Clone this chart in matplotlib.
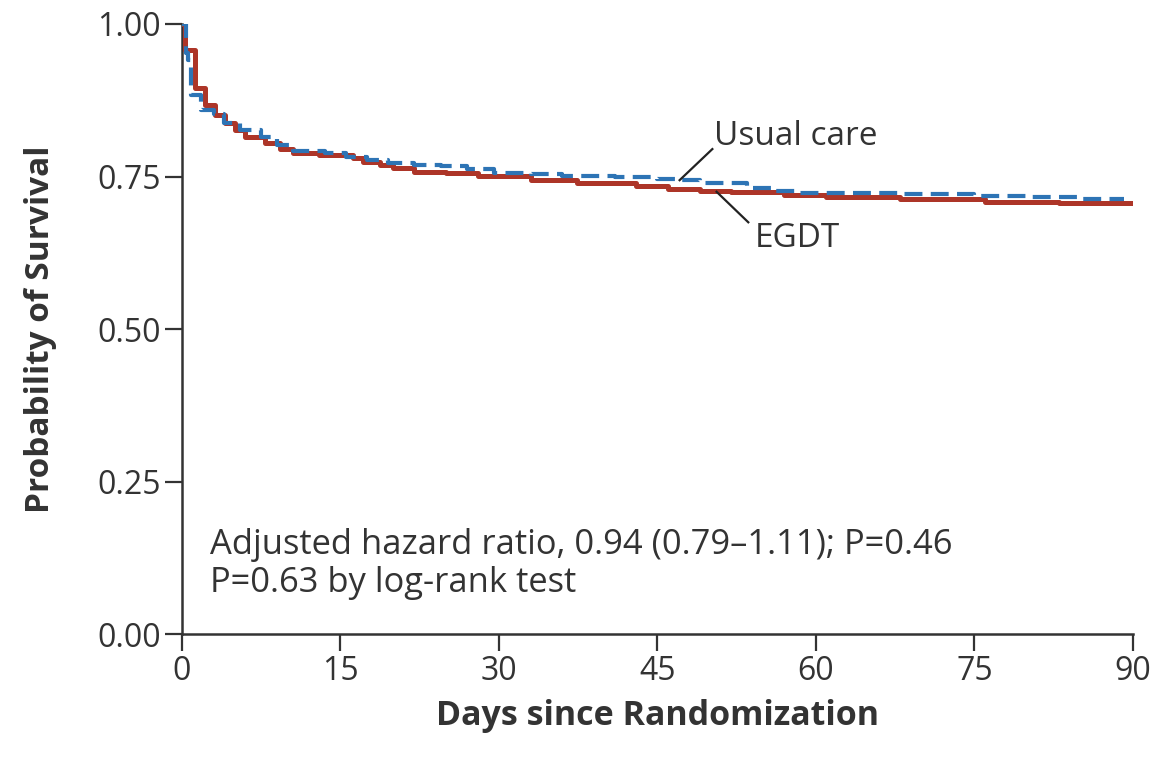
import matplotlib
matplotlib.use("Agg")
import matplotlib.pyplot as plt

# Kaplan-Meier step data (day of drop, survival after drop)
egdt_days = [0, 0.3, 1.2, 2.2, 3.1, 4.1, 5.0, 6.0, 7.9, 9.3, 10.5, 13.0, 16.2, 17.1,
             18.7, 20.0, 22.0, 25.0, 28.0, 33.0, 37.4, 43.0, 46.0, 49.0, 52.0, 57.0,
             61.0, 68.0, 76.0, 83.0, 90.0]
egdt_surv = [1.0, 0.958, 0.895, 0.867, 0.851, 0.838, 0.826, 0.815, 0.805, 0.795, 0.789,
             0.785, 0.780, 0.774, 0.769, 0.764, 0.757, 0.755, 0.751, 0.744, 0.739, 0.734,
             0.730, 0.727, 0.724, 0.720, 0.716, 0.713, 0.709, 0.706, 0.706]

usual_days = [0, 0.4, 0.6, 0.9, 1.8, 3.0, 4.0, 5.5, 7.5, 9.0, 10.5, 13.5, 15.5, 17.5,
              19.5, 22.0, 24.5, 27.0, 29.5, 33.0, 36.0, 41.0, 45.0, 47.0, 49.0, 53.5,
              56.0, 58.5, 68.0, 75.0, 80.0, 85.0, 89.2]
usual_surv = [1.0, 0.952, 0.941, 0.884, 0.859, 0.852, 0.838, 0.826, 0.815, 0.802, 0.792,
              0.788, 0.782, 0.777, 0.772, 0.769, 0.767, 0.762, 0.756, 0.754, 0.751, 0.749,
              0.746, 0.745, 0.740, 0.732, 0.727, 0.723, 0.721, 0.718, 0.716, 0.713, 0.713]

x_ticks = [0, 15, 30, 45, 60, 75, 90]
y_ticks = [0.0, 0.25, 0.5, 0.75, 1.0]

plt.rcParams['font.family'] = ['Open Sans', 'DejaVu Sans']
ink = '#333333'

fig = plt.figure(figsize=(11.56, 7.64), dpi=100)
ax = fig.add_axes([0.1574, 0.170, 0.8226, 0.7986])

ax.step(egdt_days, egdt_surv, where='post', color='#AD3528', lw=3.6, zorder=3)
ax.step(usual_days, usual_surv, where='post', color='#2D74B5', lw=3.0,
        dashes=(4.3, 2.0), zorder=4)

ax.set_xlim(0, 90)
ax.set_ylim(0, 1.0)
ax.set_xticks(x_ticks)
ax.set_yticks(y_ticks)
ax.set_yticklabels(['%.2f' % v for v in y_ticks])

for side in ('top', 'right'):
    ax.spines[side].set_visible(False)
for side in ('left', 'bottom'):
    ax.spines[side].set_linewidth(1.8)
    ax.spines[side].set_color(ink)
    ax.spines[side].set_clip_on(False)
ax.tick_params(direction='out', length=12, width=1.6, color=ink,
               labelsize=23, labelcolor=ink, pad=3)

ax.set_xlabel('Days since Randomization', fontsize=24.5, fontweight='bold',
              color=ink, labelpad=8)
ax.set_ylabel('Probability of Survival', fontsize=24, fontweight='bold',
              color=ink, labelpad=29)

# curve labels with leader lines
ax.plot([47.1, 50.2], [0.744, 0.795], color='#222222', lw=1.6, zorder=5)
ax.text(50.4, 0.815, 'Usual care', fontsize=24, color=ink, va='center', ha='left')
ax.plot([50.6, 53.6], [0.725, 0.675], color='#222222', lw=1.6, zorder=5)
ax.text(54.2, 0.649, 'EGDT', fontsize=24, color=ink, va='center', ha='left')

ax.text(2.65, 0.146, 'Adjusted hazard ratio, 0.94 (0.79\u20131.11); P=0.46',
        fontsize=24.8, color=ink, va='center', ha='left')
ax.text(2.65, 0.084, 'P=0.63 by log-rank test',
        fontsize=24.8, color=ink, va='center', ha='left')

fig.savefig('out.png', dpi=100, facecolor='white')
